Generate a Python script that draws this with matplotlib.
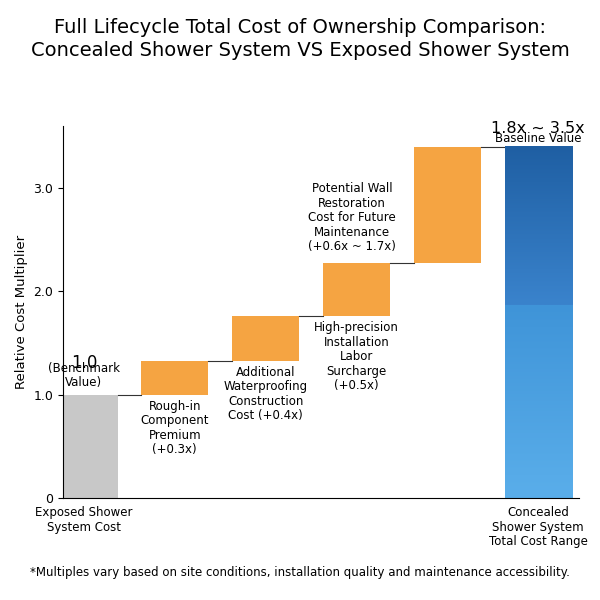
import numpy as np
import matplotlib.pyplot as plt
from matplotlib.colors import LinearSegmentedColormap

# 데이터
steps = ['Rough-in\nComponent\nPremium\n(+0.3x)',
         'Additional\nWaterproofing\nConstruction\nCost (+0.4x)',
         'High-precision\nInstallation\nLabor\nSurcharge\n(+0.5x)',
         'Potential Wall\nRestoration\nCost for Future\nMaintenance\n(+0.6x ~ 1.7x)']
base_value = 1.0
increments = [0.33, 0.43, 0.51, 1.13]
final_low = 1.87
final_high = 3.4
x_labels = ['Exposed Shower\nSystem Cost', 'Concealed\nShower System\nTotal Cost Range']

fig, ax = plt.subplots(figsize=(6, 6), dpi=100)
fig.subplots_adjust(left=0.105, right=0.965, top=0.79, bottom=0.17)

W = 0.74
ax.bar(0, base_value, width=W, color='#c8c8c8')
ax.text(0, base_value + 0.22, '1.0', ha='center', va='bottom', fontsize=12)
ax.text(0, base_value + 0.05, '(Benchmark\nValue)', ha='center', va='bottom', fontsize=8.5, linespacing=1.1)

cum = base_value
for i, (lab, inc) in enumerate(zip(steps, increments), start=1):
    ax.bar(i, inc, bottom=cum, width=W, color='#f5a442')
    ax.plot([i - 1 + W/2, i - W/2], [cum, cum], color='#333333', lw=0.8)
    if i < 4:
        ax.text(i, cum - 0.05, lab, ha='center', va='top', fontsize=8.5, linespacing=1.15)
    else:
        ax.text(i - 1.05, cum + 0.1, lab, ha='center', va='bottom', fontsize=8.5, linespacing=1.15)
    cum += inc
ax.plot([4 + W/2, 5 - W/2], [cum, cum], color='#333333', lw=0.8)

# 최종 막대 (그라데이션)
x0, x1 = 5 - W/2, 5 + W/2
lo = LinearSegmentedColormap.from_list('lo', ['#5aaeea', '#3f94d8'])
hi = LinearSegmentedColormap.from_list('hi', ['#3a83cc', '#1f5fa3'])
g = np.linspace(0, 1, 100).reshape(-1, 1)
ax.imshow(g, cmap=lo, extent=[x0, x1, 0, final_low], origin='lower', aspect='auto', zorder=2)
ax.imshow(g, cmap=hi, extent=[x0, x1, final_low, final_high], origin='lower', aspect='auto', zorder=2)
ax.text(5, final_high + 0.1, '1.8x ~ 3.5x', ha='center', va='bottom', fontsize=11.5)
ax.text(5, final_high + 0.02, 'Baseline Value', ha='center', va='bottom', fontsize=8.5)

ax.set_autoscale_on(False)
ax.set_xlim(-0.23, 5.45)
ax.set_ylim(0, 3.6)
ax.set_yticks([0, 1, 2, 3])
ax.set_yticklabels(['0', '1.0', '2.0', '3.0'], fontsize=9)
ax.set_xticks([0, 5])
ax.set_xticklabels(x_labels, fontsize=8.5, linespacing=1.15)
ax.tick_params(axis='x', length=0, pad=6)
ax.set_ylabel('Relative Cost Multiplier', fontsize=9.5)
for s in ['top', 'right']:
    ax.spines[s].set_visible(False)

fig.suptitle('Full Lifecycle Total Cost of Ownership Comparison:\nConcealed Shower System VS Exposed Shower System',
             fontsize=14, y=0.97, linespacing=1.3)
fig.text(0.5, 0.04, '*Multiples vary based on site conditions, installation quality and maintenance accessibility.',
         ha='center', fontsize=8.5)

plt.savefig('out.png', dpi=100)
